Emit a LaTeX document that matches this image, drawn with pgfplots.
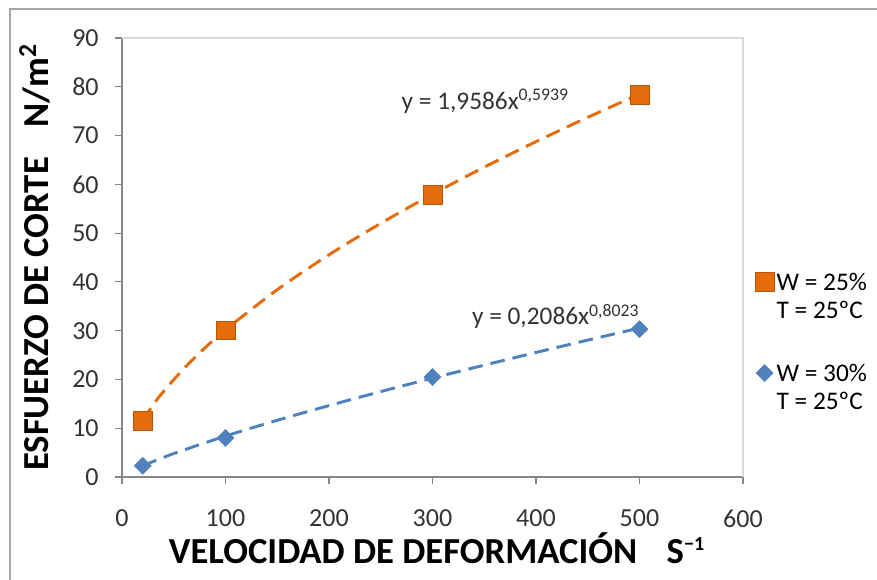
\documentclass[border=0pt]{standalone}
\usepackage{pgfplots}
\pgfplotsset{compat=1.18}
\usepackage{fontspec}
\setmainfont{Carlito}
\definecolor{orng}{HTML}{E46C0A}
\definecolor{blu}{HTML}{4F81BD}
\definecolor{axgray}{HTML}{868686}
\definecolor{boxgray}{HTML}{D9D9D9}
\begin{document}
\begin{tikzpicture}
\clip (-91.5pt,-77.25pt) rectangle (566.25pt,357.75pt);
\fill[white] (-91.5pt,-77.25pt) rectangle (566.25pt,357.75pt);
\draw[gray!70, line width=1pt] (-84pt,-100pt) rectangle (600pt,351pt);
\begin{axis}[
  at={(0pt,0pt)}, anchor=origin,
  scale only axis,
  width=465.75pt, height=329.25pt,
  xmin=0, xmax=600, ymin=0, ymax=90,
  xtick={0,100,...,600}, ytick={0,10,...,90},
  axis x line*=bottom, axis y line*=left,
  axis line style={axgray, line width=0.8pt, -},
  tick style={axgray, line width=0.8pt},
  tick align=outside, major tick length=5pt,
  /pgf/number format/assume math mode=true,
  ticklabel style={font=\fontsize{19.5}{22}\selectfont, text=black!80},
  yticklabel style={xshift=-9pt},
  xticklabel style={yshift=-16pt},
  xlabel={\textbf{VELOCIDAD DE DEFORMACIÓN\hspace{0.8em}S\raisebox{10pt}{\fontsize{15}{17}\selectfont −1}}},
  ylabel={\textbf{ESFUERZO DE CORTE\hspace{0.8em}N/m\textsuperscript{2}}},
  label style={font=\fontsize{27.5}{30}\selectfont},
  xlabel style={yshift=3pt, xshift=3pt},
  ylabel style={yshift=10pt, xshift=0pt},
  legend style={at={(1.0,0.341)}, anchor=west, xshift=6pt, draw=none, fill=none,
    font=\fontsize{19}{21}\selectfont, row sep=48.5pt, cells={anchor=base west}},
  legend cell align=left,
  clip=false,
]
\draw[boxgray, line width=0.8pt] (axis cs:0,90) -- (axis cs:600,90) -- (axis cs:600,0);
% trendlines (power fits)
\addplot[orng, line width=2.2pt, dash pattern=on 11pt off 6pt, smooth, forget plot] coordinates {
(20,11.60) (30,14.76) (40,17.51) (60,22.28) (80,26.44) (100,30.18) (150,38.40) (200,45.56)
(250,52.01) (300,57.96) (350,63.52) (400,68.75) (450,73.73) (500,78.50)};
\addplot[blu, line width=2.2pt, dash pattern=on 11pt off 6pt, smooth, forget plot] coordinates {
(20,2.31) (50,4.81) (100,8.39) (150,11.62) (200,14.64) (250,17.51) (300,20.27)
(350,22.93) (400,25.53) (450,28.06) (500,30.54)};
% data
\addplot[only marks, mark=square*, mark size=7pt, mark options={fill=orng, draw=orng!80!black, line width=0.4pt}] coordinates {
(20,11.5) (100,30.1) (300,57.8) (500,78.3)};
\addlegendentry{\begin{tabular}[t]{@{}l@{}}W = 25\%\\T = 25ºC\end{tabular}}
\addplot[only marks, mark=square*, mark size=4.5pt, mark options={fill=blu, draw=blu, line width=0.4pt, rotate=45}] coordinates {
(20,2.3) (100,8.0) (300,20.5) (500,30.3)};
\addlegendentry{\begin{tabular}[t]{@{}l@{}}W = 30\%\\T = 25ºC\end{tabular}}
\node[font=\fontsize{19}{22}\selectfont, text=black!80, anchor=base west, inner sep=0pt] at (axis cs:270,75.4) {y = 1,9586x\textsuperscript{0,5939}};
\node[font=\fontsize{19}{22}\selectfont, text=black!80, anchor=base west, inner sep=0pt] at (axis cs:338,31.2) {y = 0,2086x\textsuperscript{0,8023}};
\end{axis}
\end{tikzpicture}
\end{document}
